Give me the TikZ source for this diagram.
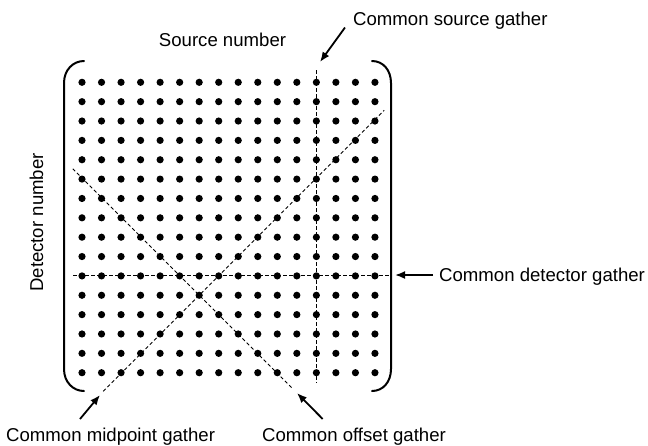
\documentclass[tikz,border=0pt]{standalone}
\usepackage{fontspec}
\setmainfont{Liberation Sans}
\usetikzlibrary{arrows.meta}
\begin{document}
\begin{tikzpicture}[x=1pt,y=-1pt,
  dot/.style={circle,fill=black,inner sep=0pt,minimum size=7.2pt},
  bracket/.style={line width=2pt,line cap=round},
  gatherline/.style={dash pattern=on 3.5pt off 2.5pt,line width=0.9pt},
  pointer/.style={line width=1.8pt,-{Latex[length=10pt,width=8pt]}},
  lbl/.style={inner sep=0pt,font=\fontsize{18.6}{22}\selectfont}]
\useasboundingbox (0,0) rectangle (648,445);

% source/detector grid
\foreach \i in {0,...,15}
  \foreach \j in {0,...,15}
    \node[dot] (d-\i-\j) at ({82+19.53*\i},{82.3+19.36*\j}) {};

% enclosing brackets
\draw[bracket] (84,61) .. controls (73,61) and (64,70) .. (64,83)
  -- (64,369) .. controls (64,382) and (73,391) .. (84,391);
\draw[bracket] (372,61) .. controls (383,61) and (391,70) .. (391,83)
  -- (391,369) .. controls (391,382) and (383,391) .. (372,391);

% gather lines
\coordinate (csTop) at (316.4,70);
\coordinate (csBot) at (316.4,383);
\coordinate (cdLeft) at (73,275.9);
\coordinate (cdRight) at (392,275.9);
\coordinate (cmpLow) at (103.2,391.3);
\coordinate (cmpHigh) at (384.2,110.3);
\coordinate (coHigh) at (72.7,168.8);
\coordinate (coLow) at (293.2,389.3);
\draw[gatherline] (csTop) -- (csBot);
\draw[gatherline] (cdLeft) -- (cdRight);
\draw[gatherline] (cmpLow) -- (cmpHigh);
\draw[gatherline] (coHigh) -- (coLow);

% axis labels
\node[lbl,anchor=base] (srcnum) at (222.5,46.5) {Source number};
\node[lbl,anchor=base,rotate=90] (detnum) at (43,222.5) {Detector number};

% gather labels and pointers
\node[lbl,anchor=base west] (csLbl) at (353,25) {Common source gather};
\node[lbl,anchor=base west] (cdLbl) at (439,281.7) {Common detector gather};
\node[lbl,anchor=base west] (cmpLbl) at (6,441) {Common midpoint gather};
\node[lbl,anchor=base west] (coLbl) at (262,441) {Common offset gather};

\coordinate (csTail) at (345,27.5);
\coordinate (csTip) at (320,62);
\coordinate (cdTail) at (433,275);
\coordinate (cdTip) at (395,275);
\coordinate (cmpTail) at (80,419);
\coordinate (cmpTip) at (100,395);
\coordinate (coTail) at (322.7,419);
\coordinate (coTip) at (297,393);
\draw[pointer] (csTail) -- (csTip);
\draw[pointer] (cdTail) -- (cdTip);
\draw[pointer] (cmpTail) -- (cmpTip);
\draw[pointer] (coTail) -- (coTip);
\end{tikzpicture}
\end{document}
